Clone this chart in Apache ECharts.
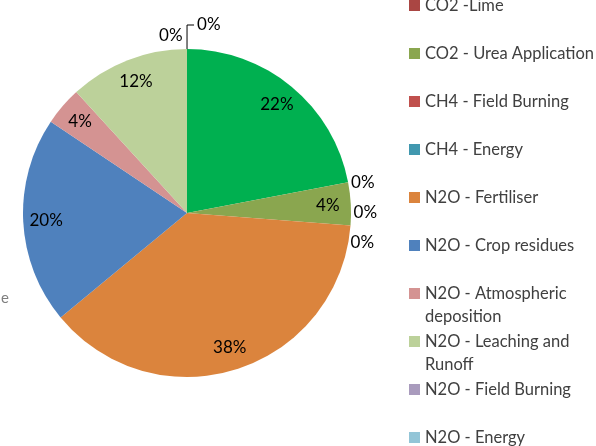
<!DOCTYPE html>
<html>
<head>
<meta charset="utf-8">
<script src="https://cdn.jsdelivr.net/npm/echarts@6/dist/echarts.min.js"></script>
<style>
  html, body { margin: 0; padding: 0; background: #fff; }
  #main { width: 596px; height: 446px; }
</style>
</head>
<body>
<div id="main"></div>
<script>
// slices in drawing order (the first one sits above the visible part of the legend)
var names = ['CO2 - Energy', 'CO2 -Lime', 'CO2 - Urea Application', 'CH4 - Field Burning', 'CH4 - Energy',
  'N2O - Fertiliser', 'N2O - Crop residues', 'N2O - Atmospheric\ndeposition', 'N2O - Leaching and\nRunoff',
  'N2O - Field Burning', 'N2O - Energy']
var values = [22, 0, 4.2, 0, 0, 37.8, 20.4, 3.8, 11.8, 0, 0]
var colors = ['#00B050', '#AA4643', '#8AA64F', '#C0504D', '#4198AF', '#DB843D', '#4F81BD', '#D49392', '#BCD19A', '#A99BBD', '#93C5D7']
var legendNames = names.slice(1)

// nudges for the 0% labels (Excel spreads them apart)
var zeroNudge = {
  'CH4 - Field Burning': { dx: 0, dy: -13 },
  'CH4 - Energy': { dx: -3, dy: 17 },
  'N2O - Field Burning': { dx: -31, dy: -13 }
}

var font = 'Lato'
var center = [187, 213]

var pieData = names.map(function (n, i) {
  return { name: n, value: values[i], itemStyle: { color: colors[i] } }
})

var labelData = names.map(function (n, i) {
  var item = { name: n, value: values[i], itemStyle: { color: 'rgba(0,0,0,0)' } }
  if (values[i] === 0) {
    item.label = { position: 'outside', distanceToLabelLine: 3 }
    item.labelLine = { show: false, length: 0, length2: 0 }
    if (n === 'N2O - Energy') {
      item.labelLine = { show: true, length: 24, length2: 7, smooth: false, lineStyle: { color: '#000', width: 1 } }
      item.label.padding = [0, 0, 14, 0]
    }
  }
  return item
})

var chart = echarts.init(document.getElementById('main'))
chart.setOption({
  backgroundColor: '#fff',
  animation: false,
  legend: {
    data: legendNames,
    orient: 'vertical',
    left: 409,
    top: -29,
    height: 700,
    padding: 0,
    itemGap: -21,
    itemWidth: 11,
    itemHeight: 11,
    icon: 'rect',
    selectedMode: false,
    textStyle: { fontFamily: font, fontSize: 16.5, lineHeight: 23, color: '#404040' },
    formatter: function (n) {
      var p = n.split('\n')
      return ' \n' + p[0] + '\n' + (p[1] || ' ')
    }
  },
  graphic: [{
    type: 'text', left: 1, top: 291,
    style: { text: 'e', font: '15px Lato', fill: '#7f7f7f' }
  }],
  series: [{
    type: 'pie',
    center: center,
    radius: 164,
    startAngle: 89.99,
    clockwise: true,
    silent: true,
    label: { show: false },
    labelLine: { show: false },
    emphasis: { disabled: true },
    data: pieData
  }, {
    type: 'pie',
    center: center,
    radius: [112, 164],
    startAngle: 89.99,
    clockwise: true,
    silent: true,
    avoidLabelOverlap: false,
    percentPrecision: 0,
    emphasis: { disabled: true },
    label: {
      show: true,
      position: 'inside',
      formatter: '{d}%',
      fontFamily: font,
      fontSize: 17,
      color: '#000'
    },
    labelLine: { show: false },
    labelLayout: function (p) {
      var nud = zeroNudge[names[p.dataIndex]]
      return nud ? { dx: nud.dx, dy: nud.dy } : {}
    },
    data: labelData
  }]
})
</script>
</body>
</html>
